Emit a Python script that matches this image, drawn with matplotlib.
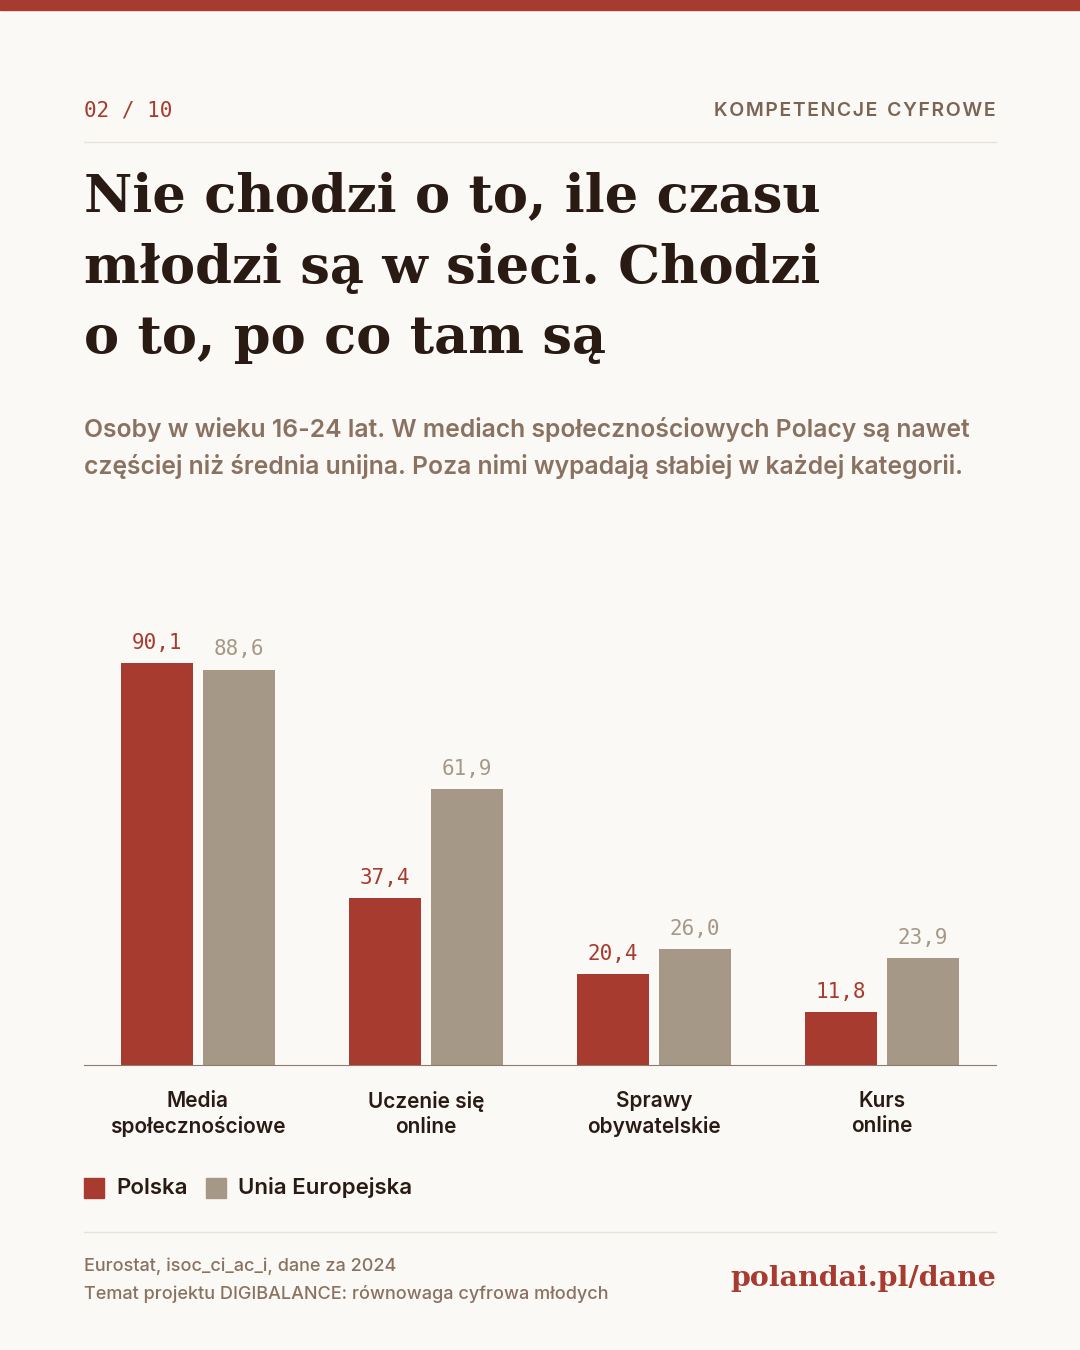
import matplotlib
matplotlib.use("Agg")
import matplotlib.pyplot as plt
from matplotlib.patches import Rectangle

categories = ["Media\nspołecznościowe", "Uczenie się\nonline", "Sprawy\nobywatelskie", "Kurs\nonline"]
polska = [90.1, 37.4, 20.4, 11.8]
ue = [88.6, 61.9, 26.0, 23.9]

RED = "#A73B2F"; GRAY = "#A59886"; BG = "#FBF9F5"; DARK = "#2A1A14"; SUB = "#8A7262"
W, H = 1080, 1350
fig = plt.figure(figsize=(10.8, 13.5), dpi=100, facecolor=BG)

def fx(x): return x / W
def fy(y): return 1 - y / H

def spaced(s):
    return "  ".join("\u200a".join(w) for w in s.split(" "))

fig.patches.append(Rectangle((0, fy(10)), 1, 10 / H, transform=fig.transFigure, color=RED))
fig.text(fx(84), fy(111), "02 / 10", family="DejaVu Sans Mono", fontsize=15, color=RED, va="center")
fig.text(fx(996), fy(111), spaced("KOMPETENCJE CYFROWE"), family="Inter", fontsize=14,
         color="#7A6555", va="center", ha="right", fontweight="semibold")
fig.lines.append(plt.Line2D([fx(84), fx(996)], [fy(142)] * 2, transform=fig.transFigure, color="#E8E2DA", lw=1))
for i, t in enumerate(["Nie chodzi o to, ile czasu", "młodzi są w sieci. Chodzi", "o to, po co tam są"]):
    fig.text(fx(84), fy(197 + i * 71), t, family="DejaVu Serif", fontweight="bold", fontsize=38,
             color=DARK, va="center")
fig.text(fx(84), fy(430), "Osoby w wieku 16-24 lat. W mediach społecznościowych Polacy są nawet",
         family="Inter", fontsize=17.8, color=SUB, va="center", fontweight="semibold")
fig.text(fx(84), fy(466), "częściej niż średnia unijna. Poza nimi wypadają słabiej w każdej kategorii.",
         family="Inter", fontsize=17.8, color=SUB, va="center", fontweight="semibold")

ax = fig.add_axes([fx(84), fy(1065), 912 / W, 525 / H])
ax.set_facecolor(BG)
ax.set_xlim(-0.5, 3.5); ax.set_ylim(0, 525 / 4.462)
off, bw = 0.18, 0.316
for i in range(len(categories)):
    ax.bar(i - off, polska[i], bw, color=RED, zorder=2)
    ax.bar(i + off, ue[i], bw, color=GRAY, zorder=2)
    ax.text(i - off, polska[i] + 2.3, f"{polska[i]:.1f}".replace(".", ","), ha="center", va="bottom",
            family="DejaVu Sans Mono", fontsize=15, color=RED)
    ax.text(i + off, ue[i] + 2.3, f"{ue[i]:.1f}".replace(".", ","), ha="center", va="bottom",
            family="DejaVu Sans Mono", fontsize=15, color=GRAY)
for s in ["top", "right", "left"]:
    ax.spines[s].set_visible(False)
ax.spines["bottom"].set_color("#8A7C70")
ax.set_yticks([])
ax.set_xticks(range(len(categories)))
ax.set_xticklabels(categories, family="Inter", fontsize=15, color=DARK, fontweight="semibold", linespacing=1.3)
ax.tick_params(axis="x", length=0, pad=19)

for x, c, lab in [(84, RED, "Polska"), (206, GRAY, "Unia Europejska")]:
    fig.patches.append(Rectangle((fx(x), fy(1198)), 20 / W, 20 / H, transform=fig.transFigure, color=c))
    fig.text(fx(x + 32), fy(1188), lab, family="Inter", fontsize=16, color=DARK, va="center", fontweight="semibold")

fig.lines.append(plt.Line2D([fx(84), fx(996)], [fy(1232)] * 2, transform=fig.transFigure, color="#E8E2DA", lw=1))
fig.text(fx(84), fy(1266), "Eurostat, isoc_ci_ac_i, dane za 2024", family="Inter", fontsize=13, color=SUB,
         va="center", fontweight="medium")
fig.text(fx(84), fy(1294), "Temat projektu DIGIBALANCE: równowaga cyfrowa młodych", family="Inter", fontsize=13,
         color=SUB, va="center", fontweight="medium")
fig.text(fx(996), fy(1278), "polandai.pl/dane", family="DejaVu Serif", fontweight="bold", fontsize=20.5,
         color=RED, va="center", ha="right")

fig.savefig("out.png", dpi=100, facecolor=BG)
